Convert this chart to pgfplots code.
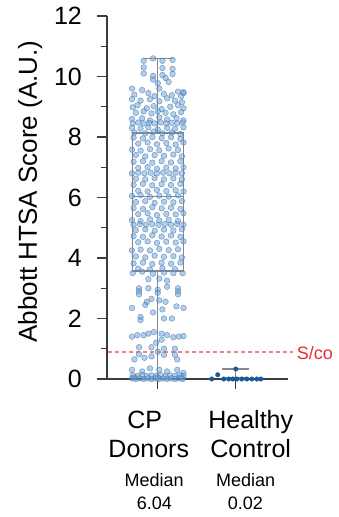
\documentclass[border=0pt]{standalone}
\usepackage{fontspec}
\setmainfont{Liberation Sans}
\usepackage{pgfplots}
\pgfplotsset{compat=1.18}
\usepgfplotslibrary{statistics}
\definecolor{axisgray}{RGB}{60,60,60}
\definecolor{boxgray}{RGB}{135,135,135}
\definecolor{cpfill}{RGB}{110,160,210}
\definecolor{cpdraw}{RGB}{70,125,185}
\definecolor{hcblue}{RGB}{25,90,155}
\definecolor{scored}{RGB}{232,45,55}
\definecolor{cutpink}{RGB}{242,128,138}
\begin{document}
\begin{tikzpicture}
\begin{axis}[
  scale only axis, width=181pt, height=363pt,
  xmin=-0.65, xmax=1.67, ymin=0, ymax=12,
  clip=false,
  axis x line=bottom, axis y line=left,
  axis line style={-, draw=axisgray, line width=1.3pt},
  tick style={draw=axisgray, line width=1.3pt},
  tick align=outside,
  major tick length=10pt, minor tick length=6.5pt,
  xtick={0,1}, xticklabels={,},
  ytick={0,2,4,6,8,10,12}, minor ytick={1,3,5,7,9,11},
  yticklabel style={font=\fontsize{25}{30}\selectfont, inner sep=0pt, xshift=-15pt},
  /pgf/number format/assume math mode=true,
  boxplot/draw direction=y,
  ylabel={Abbott HTSA Score (A.U.)},
  every axis y label/.style={at={(axis description cs:-0.425,0.5165)}, rotate=90, anchor=center, font=\fontsize{26}{30}\selectfont},
]
% bounding frame
\path (axis cs:-2.022,-4.562) rectangle (axis cs:2.312,12.529);
\draw[draw=axisgray, line width=1.3pt] (axis cs:-0.78,0) -- (axis cs:-0.65,0);
% cutoff line
\addplot[draw=cutpink, line width=1.6pt, dash pattern=on 4pt off 3pt, mark=none, forget plot] table {
x y
-0.64 0.9
1.73 0.9
};
% boxes
\addplot[draw=boxgray, line width=1.2pt, boxplot prepared={lower whisker=0, lower quartile=3.57, median=6.04, upper quartile=8.13, upper whisker=10.6, draw position=0, box extend=0.654, whisker extend=0.38}] coordinates {};
\addplot[draw=boxgray, line width=1.2pt, boxplot prepared={lower whisker=0, lower quartile=0, median=0.02, upper quartile=0.04, upper whisker=0.33, draw position=1, box extend=0.3, whisker extend=0.35}] coordinates {};
% CP donors
\addplot[only marks, mark=*, mark size=2.8pt, mark options={fill=cpfill, fill opacity=0.5, draw=cpdraw, draw opacity=0.75, line width=0.5pt}] coordinates {
(-0.06,10.6) (-0.18,10.52) (0.06,10.52) (0.19,10.55) (-0.18,10.3) (0.06,10.28) (0.19,10.25)
(-0.18,10.1) (-0.06,10.02) (0.06,10.05) (0.19,10.08) (-0.06,9.9) (0.1,9.95) (0.0,9.78) (0.14,9.82)
(-0.33,9.6) (-0.2,9.55) (0.02,9.6) (0.26,9.5) (0.33,9.48)
(-0.3,9.4) (-0.12,9.45) (-0.04,9.35) (0.08,9.42) (0.18,9.38) (0.3,9.35) (0.33,9.45)
(-0.33,9.25) (-0.22,9.2) (-0.1,9.25) (0.02,9.18) (0.12,9.28) (0.22,9.2) (0.31,9.15)
(-0.32,8.98) (-0.26,9.05) (-0.14,8.95) (-0.05,9.02) (0.05,8.92) (0.16,9.0) (0.26,9.05) (0.33,8.95)
(-0.28,8.8) (-0.18,8.85) (-0.08,8.78) (0.0,8.85) (0.1,8.8) (0.2,8.75) (0.3,8.82)
(-0.33,8.6) (-0.2,8.62) (-0.1,8.55) (0.02,8.65) (0.12,8.58) (0.24,8.62) (0.33,8.55)
(-0.32,8.45) (-0.25,8.48) (-0.18,8.45) (-0.11,8.47) (-0.04,8.45) (0.04,8.48) (0.11,8.45) (0.18,8.47) (0.25,8.45) (0.32,8.48)
(-0.33,8.3) (-0.22,8.28) (-0.12,8.32) (0.0,8.25) (0.12,8.3) (0.22,8.27) (0.33,8.32)
(-0.3,8.15) (-0.16,8.12) (-0.05,8.18) (0.06,8.12) (0.18,8.15) (0.29,8.1)
(-0.31,7.98) (-0.19,7.95) (-0.07,8.0) (0.05,7.96) (0.17,7.99) (0.29,7.94)
(-0.25,7.78) (-0.13,7.82) (-0.01,7.76) (0.11,7.8) (0.23,7.75) (0.33,7.82)
(-0.33,7.58) (-0.22,7.55) (-0.1,7.6) (0.02,7.56) (0.14,7.62) (0.26,7.57)
(-0.28,7.4) (-0.16,7.36) (-0.04,7.4) (0.08,7.38) (0.2,7.42) (0.31,7.36)
(-0.31,7.18) (-0.19,7.2) (-0.07,7.15) (0.05,7.2) (0.17,7.16) (0.29,7.2)
(-0.25,6.98) (-0.13,7.0) (-0.01,6.95) (0.11,6.99) (0.23,6.96) (0.33,7.0)
(-0.33,6.8) (-0.25,6.82) (-0.17,6.8) (-0.09,6.82) (-0.01,6.8) (0.07,6.82) (0.15,6.8) (0.23,6.82) (0.31,6.8)
(-0.28,6.62) (-0.16,6.6) (-0.04,6.64) (0.08,6.6) (0.2,6.63) (0.31,6.6)
(-0.31,6.42) (-0.19,6.45) (-0.07,6.4) (0.05,6.44) (0.17,6.41) (0.29,6.45)
(-0.25,6.22) (-0.13,6.2) (-0.01,6.25) (0.11,6.21) (0.23,6.24) (0.33,6.2)
(-0.33,6.05) (-0.22,6.08) (-0.1,6.02) (0.02,6.06) (0.14,6.03) (0.26,6.07)
(-0.28,5.85) (-0.16,5.88) (-0.04,5.82) (0.08,5.86) (0.2,5.84) (0.31,5.88)
(-0.31,5.65) (-0.19,5.62) (-0.07,5.68) (0.05,5.64) (0.17,5.66) (0.29,5.62)
(-0.25,5.45) (-0.13,5.48) (-0.01,5.42) (0.11,5.46) (0.23,5.44) (0.33,5.48)
(-0.33,5.25) (-0.22,5.22) (-0.1,5.28) (0.02,5.24) (0.14,5.26) (0.26,5.22)
(-0.31,5.1) (-0.23,5.12) (-0.15,5.1) (-0.07,5.12) (0.01,5.1) (0.09,5.12) (0.17,5.1) (0.25,5.12) (0.33,5.1)
(-0.28,4.92) (-0.16,4.95) (-0.04,4.9) (0.08,4.94) (0.2,4.91) (0.31,4.95)
(-0.31,4.72) (-0.19,4.7) (-0.07,4.75) (0.05,4.71) (0.17,4.74) (0.29,4.7)
(-0.25,4.52) (-0.13,4.55) (-0.01,4.5) (0.11,4.54) (0.23,4.51) (0.33,4.55)
(-0.33,4.25) (-0.22,4.28) (-0.1,4.25) (0.02,4.3) (0.14,4.26) (0.26,4.29)
(-0.28,4.05) (-0.16,4.02) (-0.04,4.08) (0.08,4.04) (0.2,4.06) (0.31,4.02)
(-0.31,3.82) (-0.19,3.85) (-0.07,3.8) (0.05,3.84) (0.17,3.81) (0.29,3.85)
(-0.25,3.65) (-0.1,3.62) (0.06,3.66) (0.22,3.63)
(-0.32,3.5) (-0.2,3.55) (-0.06,3.48) (0.08,3.52) (0.2,3.5) (0.32,3.5)
(-0.12,3.3) (0.02,3.32) (0.12,3.25)
(-0.24,3.0) (-0.24,2.9) (-0.24,2.8) (-0.12,3.0) (0.0,2.95) (0.0,2.85) (0.12,3.05) (0.26,3.0) (0.26,2.9) (0.26,2.8)
(-0.08,2.65) (0.02,2.6) (-0.14,2.55) (0.1,2.55)
(-0.33,2.35) (-0.16,2.45) (0.24,2.4) (0.33,2.35) (-0.06,2.2) (0.06,2.3)
(-0.22,2.05) (-0.22,1.95) (0.08,2.0) (0.18,2.0)
(-0.33,1.4) (-0.26,1.45) (-0.18,1.45) (-0.12,1.5) (-0.05,1.55) (0.05,1.5) (0.12,1.45) (0.2,1.38) (0.27,1.4) (0.33,1.42) (-0.02,1.2) (0.05,1.3)
(-0.24,1.05) (-0.08,1.05) (0.08,1.0) (0.22,1.0) (-0.24,0.82) (-0.08,0.75) (0.08,0.8) (0.22,0.8) (-0.3,0.65) (0.0,0.9) (0.25,0.65) (-0.17,0.7)
(-0.33,0.3) (-0.2,0.25) (-0.1,0.35) (0.02,0.3) (0.12,0.25) (0.25,0.3) (0.33,0.2)
(-0.32,0.12) (-0.26,0.1) (-0.2,0.13) (-0.14,0.1) (-0.08,0.12) (-0.02,0.1) (0.04,0.13) (0.1,0.1) (0.16,0.12) (0.22,0.1) (0.28,0.12) (0.33,0.1)
(-0.33,0.02) (-0.28,0) (-0.23,0.02) (-0.18,0) (-0.13,0.02) (-0.08,0) (-0.03,0.02) (0.02,0) (0.07,0.02) (0.12,0) (0.17,0.02) (0.22,0) (0.27,0.02) (0.32,0) (-0.3,0.05) (0.0,0.05) (0.3,0.05)
};
% Healthy control
\addplot[only marks, mark=*, mark size=2.3pt, mark options={fill=hcblue, draw=hcblue, line width=0.3pt}] coordinates {
(0.692,0) (0.846,0) (0.91,0) (0.962,0) (1.013,0) (1.077,0) (1.141,0) (1.205,0) (1.269,0) (1.32,0) (0.769,0.14) (1.0,0.33)
};
% labels
\node[anchor=base west, inner sep=0pt, text=scored, font=\fontsize{18}{22}\selectfont] at (axis cs:1.782,0.66) {S/co};
\node[anchor=base, inner sep=0pt, font=\fontsize{25}{30}\selectfont] at (axis cs:-0.167,-1.62) {CP};
\node[anchor=base, inner sep=0pt, font=\fontsize{25}{30}\selectfont] at (axis cs:-0.115,-2.61) {Donors};
\node[anchor=base, inner sep=0pt, font=\fontsize{25}{30}\selectfont] at (axis cs:1.192,-1.62) {Healthy};
\node[anchor=base, inner sep=0pt, font=\fontsize{25}{30}\selectfont] at (axis cs:1.192,-2.61) {Control};
\node[anchor=base, inner sep=0pt, font=\fontsize{18}{22}\selectfont] at (axis cs:-0.045,-3.54) {Median};
\node[anchor=base, inner sep=0pt, font=\fontsize{18}{22}\selectfont] at (axis cs:-0.042,-4.30) {6.04};
\node[anchor=base, inner sep=0pt, font=\fontsize{18}{22}\selectfont] at (axis cs:1.128,-3.54) {Median};
\node[anchor=base, inner sep=0pt, font=\fontsize{18}{22}\selectfont] at (axis cs:1.122,-4.30) {0.02};
\end{axis}
\end{tikzpicture}
\end{document}
